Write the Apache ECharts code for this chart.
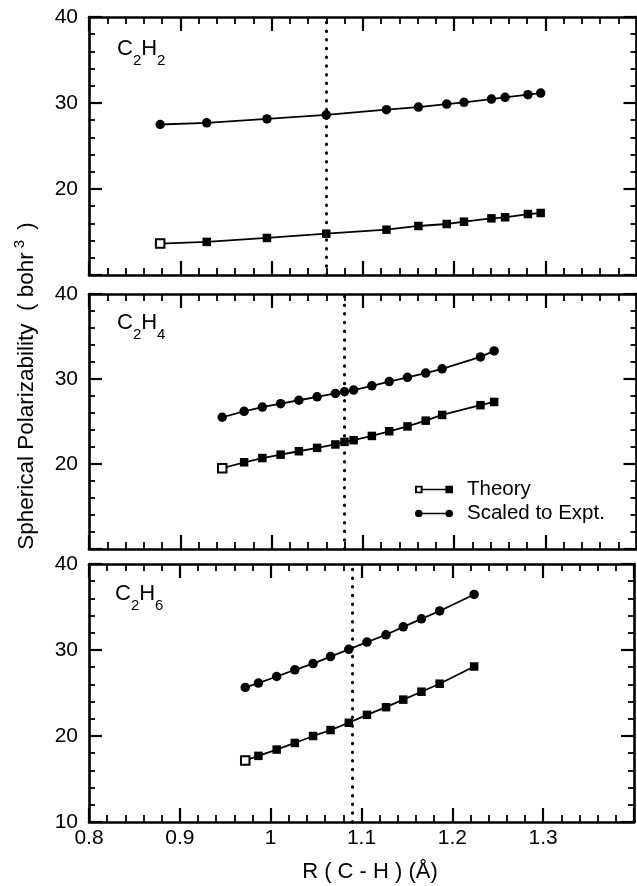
<!DOCTYPE html>
<html>
<head>
<meta charset="utf-8">
<script src="https://cdn.jsdelivr.net/npm/echarts@6/dist/echarts.min.js"></script>
<style>
html,body{margin:0;padding:0;background:#fff;}
#chart{width:637px;height:886px;}
</style>
</head>
<body>
<div id="chart"></div>
<script>
// ---------- data ----------
const panelNames = ['C2H2', 'C2H4', 'C2H6'];
const c2h2X      = [0.878, 0.929, 0.995, 1.060, 1.126, 1.161, 1.192, 1.211, 1.241, 1.256, 1.281, 1.295];
const c2h2Scaled = [27.5, 27.7, 28.15, 28.62, 29.22, 29.53, 29.88, 30.08, 30.46, 30.66, 30.97, 31.16];
const c2h2Theory = [13.65, 13.85, 14.31, 14.8, 15.27, 15.7, 15.93, 16.2, 16.59, 16.71, 17.09, 17.21];

const c2h4X      = [0.946, 0.97, 0.99, 1.01, 1.03, 1.05, 1.07, 1.08, 1.09, 1.11, 1.129, 1.149, 1.169, 1.187, 1.229, 1.244];
const c2h4Scaled = [25.5, 26.2, 26.7, 27.1, 27.5, 27.9, 28.3, 28.5, 28.7, 29.2, 29.7, 30.2, 30.7, 31.2, 32.6, 33.3];
const c2h4Theory = [19.5, 20.2, 20.7, 21.1, 21.5, 21.9, 22.3, 22.6, 22.8, 23.3, 23.85, 24.42, 25.1, 25.77, 26.92, 27.3];

const c2h6X      = [0.972, 0.9865, 1.0066, 1.0266, 1.0467, 1.0659, 1.086, 1.106, 1.127, 1.146, 1.166, 1.186, 1.224];
const c2h6Scaled = [25.65, 26.15, 26.92, 27.69, 28.42, 29.23, 30.08, 30.92, 31.77, 32.69, 33.62, 34.54, 36.46];
const c2h6Theory = [17.15, 17.69, 18.42, 19.19, 20.0, 20.69, 21.54, 22.46, 23.35, 24.23, 25.15, 26.08, 28.08];

const equilibriumR = [1.061, 1.080, 1.087];   // dotted vertical lines
const xRange = [0.8, 1.4];
const yRange = [10, 40];
const seriesNames = ['Theory', 'Scaled to Expt.'];

// ---------- layout ----------
const FONT = "'Liberation Sans', Arial, Helvetica, sans-serif";
const gridBoxes = [
  {top: 17,  height: 258},
  {top: 294, height: 255},
  {top: 564, height: 258}
];
const GRID_LEFT = 89, GRID_WIDTH = 547.5;

const panels = [
  {x: c2h2X, scaled: c2h2Scaled, theory: c2h2Theory},
  {x: c2h4X, scaled: c2h4Scaled, theory: c2h4Theory},
  {x: c2h6X, scaled: c2h6Scaled, theory: c2h6Theory}
];

const chart = echarts.init(document.getElementById('chart'), null, {renderer: 'canvas'});

const grids = gridBoxes.map(b => ({left: GRID_LEFT, width: GRID_WIDTH, top: b.top, height: b.height, containLabel: false}));

const axisLineStyle = {show: true, onZero: false, lineStyle: {color: '#000', width: 2.6}};

function xAxisFor(gi, position, showLabels) {
  return {
    type: 'value', gridIndex: gi, position: position,
    min: xRange[0], max: xRange[1], interval: 0.1,
    axisLine: axisLineStyle,
    axisTick: {show: true, inside: true, length: 14, lineStyle: {color: '#000', width: 2.2}},
    minorTick: {show: true, splitNumber: 5, length: 7, lineStyle: {color: '#000', width: 1.8}},
    splitLine: {show: false}, minorSplitLine: {show: false},
    axisLabel: {
      show: showLabels, margin: 6, color: '#000', fontSize: 21, fontFamily: FONT,
      formatter: v => (Math.abs(v - 1.4) < 1e-6 ? '' : String(Math.round(v * 10) / 10))
    }
  };
}
function yAxisFor(gi, position, showLabels, hideBottom) {
  return {
    type: 'value', gridIndex: gi, position: position,
    min: yRange[0], max: yRange[1], interval: 10,
    axisLine: axisLineStyle,
    axisTick: {show: true, inside: true, length: 13, lineStyle: {color: '#000', width: 2.2}},
    minorTick: {show: true, splitNumber: 5, length: 6, lineStyle: {color: '#000', width: 1.8}},
    splitLine: {show: false}, minorSplitLine: {show: false},
    axisLabel: {
      show: showLabels, margin: 11, color: '#000', fontSize: 21, fontFamily: FONT,
      formatter: v => (hideBottom && v === 10 ? '' : String(v))
    }
  };
}

const xAxes = [], yAxes = [], series = [];
panels.forEach((p, i) => {
  xAxes.push(xAxisFor(i, 'bottom', i === 2));
  xAxes.push(xAxisFor(i, 'top', false));
  yAxes.push(yAxisFor(i, 'left', true, i !== 2));
  yAxes.push(yAxisFor(i, 'right', false, true));

  const theoryData = p.x.map((x, k) => {
    const item = {value: [x, p.theory[k]]};
    if (k === 0) item.itemStyle = {color: '#fff', borderColor: '#000', borderWidth: 2};
    return item;
  });
  const scaledData = p.x.map((x, k) => [x, p.scaled[k]]);

  series.push({
    name: seriesNames[0], type: 'line', xAxisIndex: 2 * i, yAxisIndex: 2 * i,
    data: theoryData, symbol: 'rect', symbolSize: 8.5, showAllSymbol: true,
    itemStyle: {color: '#000'}, lineStyle: {color: '#000', width: 1.8},
    z: 3
  });
  series.push({
    name: seriesNames[1], type: 'line', xAxisIndex: 2 * i, yAxisIndex: 2 * i,
    data: scaledData, symbol: 'circle', symbolSize: 9.5, showAllSymbol: true,
    itemStyle: {color: '#000'}, lineStyle: {color: '#000', width: 1.8},
    z: 3,
    markLine: {
      silent: true, symbol: ['none', 'none'], animation: false,
      label: {show: false},
      lineStyle: {color: '#000', type: [0.5, 8.2], cap: 'round', width: 3},
      data: [{xAxis: equilibriumR[i]}]
    }
  });
});

const theoryIcon = 'path://M0,0h8v8h-8z M2,2v4h4v-4z M8,3.2h24v1.6h-24z M32,0h8v8h-8z';
const scaledIcon = 'path://M0,4a4,4 0 1,0 8,0a4,4 0 1,0 -8,0z M8,3.2h24v1.6h-24z M32,4a4,4 0 1,0 8,0a4,4 0 1,0 -8,0z';

const mainStyle = {fontSize: 22, fontFamily: FONT, lineHeight: 26, fill: '#000'};
const subStyle = {fontSize: 15, fontFamily: FONT, lineHeight: 15, padding: [24, 0, 0, 0]};
const formulaText = ['{m|C}{s|2}{m|H}{s|2}', '{m|C}{s|2}{m|H}{s|4}', '{m|C}{s|2}{m|H}{s|6}'];
const formulaPos = [[117, 36], [117, 310], [115, 581]];

const graphics = formulaText.map((t, i) => ({
  type: 'text', x: formulaPos[i][0], y: formulaPos[i][1], silent: true,
  style: {text: t, rich: {m: mainStyle, s: subStyle}, fill: '#000', align: 'left', verticalAlign: 'top'}
}));
graphics.push({
  type: 'text', x: 27, y: 386, rotation: Math.PI / 2, silent: true,
  style: {
    text: 'Spherical Polarizability  ( bohr{sup|3} )',
    fontSize: 22.5, fontFamily: FONT, fill: '#000', align: 'center', verticalAlign: 'middle',
    rich: {sup: {fontSize: 15, fontFamily: FONT, padding: [0, 4, 15, 4]}}
  }
});
graphics.push({
  type: 'text', x: 370, y: 872, silent: true,
  style: {text: 'R ( C - H ) (Å)', fontSize: 22, fontFamily: FONT, fill: '#000', align: 'center', verticalAlign: 'middle'}
});

chart.setOption({
  animation: false,
  backgroundColor: '#fff',
  grid: grids,
  xAxis: xAxes,
  yAxis: yAxes,
  legend: {
    data: [{name: seriesNames[0], icon: theoryIcon}, {name: seriesNames[1], icon: scaledIcon}],
    orient: 'vertical', left: 410, top: 474,
    itemWidth: 38, itemHeight: 8, itemGap: 3, selectedMode: false,
    textStyle: {fontSize: 20.5, fontFamily: FONT, color: '#000', lineHeight: 20, padding: [0, 0, 0, 9]}
  },
  graphic: graphics,
  series: series
});
</script>
</body>
</html>
